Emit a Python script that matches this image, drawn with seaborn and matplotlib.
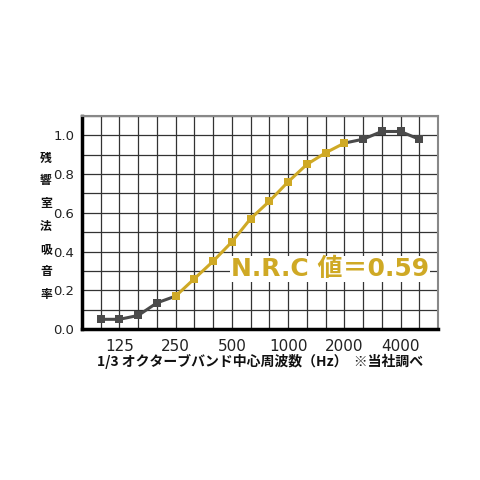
import matplotlib
matplotlib.use("Agg")
import matplotlib.pyplot as plt
import numpy as np
import pandas as pd
import seaborn as sns

# ── Data ──────────────────────────────────────────────────────────────────────
bands = [100, 125, 160, 200, 250, 315, 400, 500, 630, 800,
         1000, 1250, 1600, 2000, 2500, 3150, 4000, 5000]
absorption = [0.05, 0.05, 0.07, 0.135, 0.17, 0.26, 0.35, 0.45, 0.57, 0.66,
              0.76, 0.85, 0.91, 0.96, 0.98, 1.02, 1.02, 0.98]
labelled_bands = [125, 250, 500, 1000, 2000, 4000]
nrc_range = (250, 2000)   # bands used for N.R.C
nrc_text = "N.R.C 値＝0.59"
ylabel_chars = "残響室法吸音率"
xlabel = "1/3 オクターブバンド中心周波数（Hz）  ※当社調べ"

GOLD = "#CFA925"
DARK = "#4a4a4a"
LATIN_FIRST = ["DejaVu Sans", "Noto Sans CJK JP"]

sns.set_theme(style="white")
plt.rcParams["font.family"] = ["Noto Sans CJK JP", "DejaVu Sans"]

df = pd.DataFrame({"band": bands, "alpha": absorption})
df["idx"] = np.arange(len(df))
lo, hi = bands.index(nrc_range[0]), bands.index(nrc_range[1])

fig = plt.figure(figsize=(4.8, 4.8), dpi=100)
ax = fig.add_axes([82 / 480, 1 - 329 / 480, 356 / 480, 213 / 480])

# grid
ax.set_xlim(-1, len(bands))
ax.set_ylim(0, 1.1)
ax.set_xticks(np.arange(-1, len(bands) + 1))
ax.set_xticklabels([""] + [str(b) if b in labelled_bands else "" for b in bands] + [""])
yt = np.round(np.arange(0, 1.11, 0.1), 1)
ax.set_yticks(yt)
ax.set_yticklabels([f"{v:.1f}" if round(v * 10) % 2 == 0 else "" for v in yt])
ax.grid(True, color="#333333", lw=0.9)
ax.set_axisbelow(True)

# curve: grey ends, gold N.R.C section
seg_kw = dict(x="idx", y="alpha", marker="s", markersize=6,
              markeredgewidth=0, lw=2.2, ax=ax, legend=False)
sns.lineplot(data=df.iloc[:lo + 1], color=DARK, **seg_kw)
sns.lineplot(data=df.iloc[hi:], color=DARK, **seg_kw)
sns.lineplot(data=df.iloc[lo:hi + 1], color=GOLD, **seg_kw)

ax.text(12.25, 0.31, nrc_text, color=GOLD, fontsize=18, fontweight="bold",
        family=LATIN_FIRST, ha="center", va="center",
        bbox=dict(facecolor="white", edgecolor="none", pad=0.5))

# spines and ticks
for s in ["top", "right"]:
    ax.spines[s].set_color("#888888")
    ax.spines[s].set_linewidth(1.5)
for s in ["left", "bottom"]:
    ax.spines[s].set_color("black")
    ax.spines[s].set_linewidth(2.5)
ax.tick_params(axis="both", direction="inout", length=9, width=3,
               color="black", labelcolor="#222222")
ax.tick_params(axis="x", pad=3, labelsize=11)
ax.tick_params(axis="y", pad=1, labelsize=9.5)
for lab in ax.get_xticklabels() + ax.get_yticklabels():
    lab.set_family(LATIN_FIRST)
ax.set_xlabel("")
ax.set_ylabel("")

fig.text(97 / 480, 1 - 361 / 480, xlabel, fontsize=10, fontweight="bold",
         ha="left", va="center", color="#111111")

for i, ch in enumerate(ylabel_chars):
    fig.text(46 / 480, 1 - (158 + i * 22.8) / 480, ch, fontsize=8.5,
             fontweight="bold", ha="center", va="center", color="#111111")

fig.savefig("out.png", dpi=100, facecolor="white")
